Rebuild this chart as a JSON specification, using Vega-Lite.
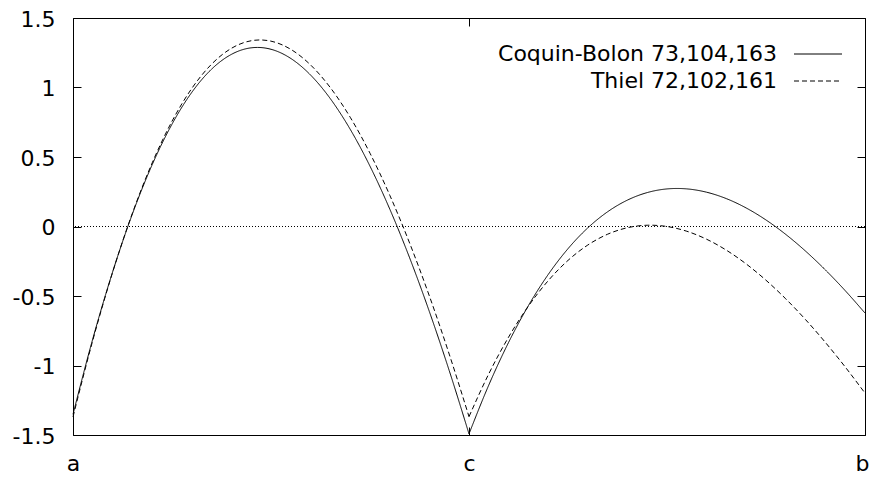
{
  "$schema": "https://vega.github.io/schema/vega-lite/v6.json",
  "width": 792,
  "height": 417,
  "autosize": "none",
  "padding": {"left": 73, "top": 18, "right": 5, "bottom": 42},
  "background": "white",
  "config": {
    "view": {"stroke": "black", "strokeWidth": 1},
    "font": "DejaVu Sans",
    "axis": {
      "grid": false,
      "domain": false,
      "offset": -8,
      "ticks": true,
      "tickColor": "black",
      "tickOpacity": 1,
      "tickWidth": 1,
      "tickSize": 8,
      "labelColor": "black",
      "labelFont": "DejaVu Sans",
      "labelFontSize": 22,
      "title": null
    }
  },
  "datasets": {
    "curves": [
      {"t": 0, "err": -1.3514, "series": "Coquin-Bolon 73,104,163", "part": "a-c"},
      {"t": 0.025, "err": -0.808, "series": "Coquin-Bolon 73,104,163", "part": "a-c"},
      {"t": 0.05, "err": -0.3272, "series": "Coquin-Bolon 73,104,163", "part": "a-c"},
      {"t": 0.075, "err": 0.0905, "series": "Coquin-Bolon 73,104,163", "part": "a-c"},
      {"t": 0.1, "err": 0.445, "series": "Coquin-Bolon 73,104,163", "part": "a-c"},
      {"t": 0.125, "err": 0.7363, "series": "Coquin-Bolon 73,104,163", "part": "a-c"},
      {"t": 0.15, "err": 0.9651, "series": "Coquin-Bolon 73,104,163", "part": "a-c"},
      {"t": 0.175, "err": 1.132, "series": "Coquin-Bolon 73,104,163", "part": "a-c"},
      {"t": 0.2, "err": 1.2383, "series": "Coquin-Bolon 73,104,163", "part": "a-c"},
      {"t": 0.225, "err": 1.2854, "series": "Coquin-Bolon 73,104,163", "part": "a-c"},
      {"t": 0.2329, "err": 1.2882, "series": "Coquin-Bolon 73,104,163", "part": "a-c"},
      {"t": 0.25, "err": 1.275, "series": "Coquin-Bolon 73,104,163", "part": "a-c"},
      {"t": 0.275, "err": 1.209, "series": "Coquin-Bolon 73,104,163", "part": "a-c"},
      {"t": 0.3, "err": 1.0895, "series": "Coquin-Bolon 73,104,163", "part": "a-c"},
      {"t": 0.325, "err": 0.9189, "series": "Coquin-Bolon 73,104,163", "part": "a-c"},
      {"t": 0.35, "err": 0.6995, "series": "Coquin-Bolon 73,104,163", "part": "a-c"},
      {"t": 0.375, "err": 0.434, "series": "Coquin-Bolon 73,104,163", "part": "a-c"},
      {"t": 0.4, "err": 0.1249, "series": "Coquin-Bolon 73,104,163", "part": "a-c"},
      {"t": 0.425, "err": -0.2249, "series": "Coquin-Bolon 73,104,163", "part": "a-c"},
      {"t": 0.45, "err": -0.6129, "series": "Coquin-Bolon 73,104,163", "part": "a-c"},
      {"t": 0.475, "err": -1.0362, "series": "Coquin-Bolon 73,104,163", "part": "a-c"},
      {"t": 0.5, "err": -1.4921, "series": "Coquin-Bolon 73,104,163", "part": "a-c"},
      {"t": 0.5, "err": -1.4921, "series": "Coquin-Bolon 73,104,163", "part": "c-b"},
      {"t": 0.525, "err": -1.1405, "series": "Coquin-Bolon 73,104,163", "part": "c-b"},
      {"t": 0.55, "err": -0.8337, "series": "Coquin-Bolon 73,104,163", "part": "c-b"},
      {"t": 0.575, "err": -0.5694, "series": "Coquin-Bolon 73,104,163", "part": "c-b"},
      {"t": 0.6, "err": -0.3454, "series": "Coquin-Bolon 73,104,163", "part": "c-b"},
      {"t": 0.625, "err": -0.1597, "series": "Coquin-Bolon 73,104,163", "part": "c-b"},
      {"t": 0.65, "err": -0.0099, "series": "Coquin-Bolon 73,104,163", "part": "c-b"},
      {"t": 0.675, "err": 0.1059, "series": "Coquin-Bolon 73,104,163", "part": "c-b"},
      {"t": 0.7, "err": 0.1898, "series": "Coquin-Bolon 73,104,163", "part": "c-b"},
      {"t": 0.725, "err": 0.244, "series": "Coquin-Bolon 73,104,163", "part": "c-b"},
      {"t": 0.75, "err": 0.2703, "series": "Coquin-Bolon 73,104,163", "part": "c-b"},
      {"t": 0.7627, "err": 0.2736, "series": "Coquin-Bolon 73,104,163", "part": "c-b"},
      {"t": 0.775, "err": 0.2706, "series": "Coquin-Bolon 73,104,163", "part": "c-b"},
      {"t": 0.8, "err": 0.2467, "series": "Coquin-Bolon 73,104,163", "part": "c-b"},
      {"t": 0.825, "err": 0.2004, "series": "Coquin-Bolon 73,104,163", "part": "c-b"},
      {"t": 0.85, "err": 0.1332, "series": "Coquin-Bolon 73,104,163", "part": "c-b"},
      {"t": 0.875, "err": 0.0469, "series": "Coquin-Bolon 73,104,163", "part": "c-b"},
      {"t": 0.9, "err": -0.0571, "series": "Coquin-Bolon 73,104,163", "part": "c-b"},
      {"t": 0.925, "err": -0.1774, "series": "Coquin-Bolon 73,104,163", "part": "c-b"},
      {"t": 0.95, "err": -0.3126, "series": "Coquin-Bolon 73,104,163", "part": "c-b"},
      {"t": 0.975, "err": -0.4614, "series": "Coquin-Bolon 73,104,163", "part": "c-b"},
      {"t": 1, "err": -0.6228, "series": "Coquin-Bolon 73,104,163", "part": "c-b"},
      {"t": 0, "err": -1.3699, "series": "Thiel 72,102,161", "part": "a-c"},
      {"t": 0.025, "err": -0.8187, "series": "Thiel 72,102,161", "part": "a-c"},
      {"t": 0.05, "err": -0.33, "series": "Thiel 72,102,161", "part": "a-c"},
      {"t": 0.075, "err": 0.0956, "series": "Thiel 72,102,161", "part": "a-c"},
      {"t": 0.1, "err": 0.4579, "series": "Thiel 72,102,161", "part": "a-c"},
      {"t": 0.125, "err": 0.757, "series": "Thiel 72,102,161", "part": "a-c"},
      {"t": 0.15, "err": 0.9934, "series": "Thiel 72,102,161", "part": "a-c"},
      {"t": 0.175, "err": 1.168, "series": "Thiel 72,102,161", "part": "a-c"},
      {"t": 0.2, "err": 1.2819, "series": "Thiel 72,102,161", "part": "a-c"},
      {"t": 0.225, "err": 1.3364, "series": "Thiel 72,102,161", "part": "a-c"},
      {"t": 0.2361, "err": 1.3421, "series": "Thiel 72,102,161", "part": "a-c"},
      {"t": 0.25, "err": 1.3334, "series": "Thiel 72,102,161", "part": "a-c"},
      {"t": 0.275, "err": 1.2746, "series": "Thiel 72,102,161", "part": "a-c"},
      {"t": 0.3, "err": 1.1622, "series": "Thiel 72,102,161", "part": "a-c"},
      {"t": 0.325, "err": 0.9985, "series": "Thiel 72,102,161", "part": "a-c"},
      {"t": 0.35, "err": 0.786, "series": "Thiel 72,102,161", "part": "a-c"},
      {"t": 0.375, "err": 0.5271, "series": "Thiel 72,102,161", "part": "a-c"},
      {"t": 0.4, "err": 0.2246, "series": "Thiel 72,102,161", "part": "a-c"},
      {"t": 0.425, "err": -0.1189, "series": "Thiel 72,102,161", "part": "a-c"},
      {"t": 0.45, "err": -0.5006, "series": "Thiel 72,102,161", "part": "a-c"},
      {"t": 0.475, "err": -0.9179, "series": "Thiel 72,102,161", "part": "a-c"},
      {"t": 0.5, "err": -1.368, "series": "Thiel 72,102,161", "part": "a-c"},
      {"t": 0.5, "err": -1.368, "series": "Thiel 72,102,161", "part": "c-b"},
      {"t": 0.525, "err": -1.0598, "series": "Thiel 72,102,161", "part": "c-b"},
      {"t": 0.55, "err": -0.7956, "series": "Thiel 72,102,161", "part": "c-b"},
      {"t": 0.575, "err": -0.573, "series": "Thiel 72,102,161", "part": "c-b"},
      {"t": 0.6, "err": -0.3899, "series": "Thiel 72,102,161", "part": "c-b"},
      {"t": 0.625, "err": -0.244, "series": "Thiel 72,102,161", "part": "c-b"},
      {"t": 0.65, "err": -0.1333, "series": "Thiel 72,102,161", "part": "c-b"},
      {"t": 0.675, "err": -0.0556, "series": "Thiel 72,102,161", "part": "c-b"},
      {"t": 0.7, "err": -0.0088, "series": "Thiel 72,102,161", "part": "c-b"},
      {"t": 0.725, "err": 0.0091, "series": "Thiel 72,102,161", "part": "c-b"},
      {"t": 0.7288, "err": 0.0094, "series": "Thiel 72,102,161", "part": "c-b"},
      {"t": 0.75, "err": 0.0, "series": "Thiel 72,102,161", "part": "c-b"},
      {"t": 0.775, "err": -0.0342, "series": "Thiel 72,102,161", "part": "c-b"},
      {"t": 0.8, "err": -0.0916, "series": "Thiel 72,102,161", "part": "c-b"},
      {"t": 0.825, "err": -0.1706, "series": "Thiel 72,102,161", "part": "c-b"},
      {"t": 0.85, "err": -0.2695, "series": "Thiel 72,102,161", "part": "c-b"},
      {"t": 0.875, "err": -0.3867, "series": "Thiel 72,102,161", "part": "c-b"},
      {"t": 0.9, "err": -0.5208, "series": "Thiel 72,102,161", "part": "c-b"},
      {"t": 0.925, "err": -0.6703, "series": "Thiel 72,102,161", "part": "c-b"},
      {"t": 0.95, "err": -0.834, "series": "Thiel 72,102,161", "part": "c-b"},
      {"t": 0.975, "err": -1.0105, "series": "Thiel 72,102,161", "part": "c-b"},
      {"t": 1, "err": -1.1988, "series": "Thiel 72,102,161", "part": "c-b"}
    ]
  },
  "layer": [
    {
      "data": {"values": [{"level": 0}]},
      "mark": {"type": "rule", "color": "black", "strokeWidth": 1, "strokeDash": [1, 2]},
      "encoding": {
        "y": {"field": "level", "type": "quantitative", "axis": null, "scale": {"domain": [-1.5, 1.5], "nice": false, "zero": false}}
      }
    },
    {
      "data": {"name": "curves"},
      "mark": {"type": "line", "color": "black", "strokeWidth": 1, "interpolate": "monotone"},
      "encoding": {
        "x": {
          "field": "t", "type": "quantitative",
          "scale": {"domain": [0, 1], "nice": false, "zero": false},
          "axis": {
            "orient": "bottom", "values": [0, 0.5, 1],
            "labelExpr": "datum.value == 0 ? 'a' : (datum.value == 1 ? 'b' : 'c')",
            "labelFlush": false, "labelOverlap": false,
            "labelAlign": {"condition": {"test": "datum.value == 1", "value": "right"}, "value": "center"},
            "labelOffset": {"condition": {"test": "datum.value == 1", "value": 4}, "value": 0},
            "labelBaseline": "alphabetic", "labelPadding": 35
          }
        },
        "y": {
          "field": "err", "type": "quantitative",
          "scale": {"domain": [-1.5, 1.5], "nice": false, "zero": false},
          "axis": {
            "orient": "left", "values": [-1.5, -1, -0.5, 0, 0.5, 1, 1.5],
            "labelExpr": "'' + datum.value",
            "labelPadding": 18, "labelBaseline": "alphabetic", "labelOffset": 8,
            "labelOverlap": false, "labelFlush": false
          }
        },
        "detail": {"field": "part"},
        "strokeDash": {
          "field": "series", "type": "nominal",
          "scale": {"domain": ["Coquin-Bolon 73,104,163", "Thiel 72,102,161"], "range": [[1, 0], [5, 3]]},
          "legend": {
            "orient": "none", "legendX": 702, "legendY": 25, "title": null, "padding": 0,
            "labelFont": "DejaVu Sans", "labelFontSize": 22, "labelColor": "black",
            "labelAlign": "right", "labelBaseline": "middle", "labelOffset": -52, "labelLimit": 0,
            "symbolOffset": 32, "symbolType": "M-2.4,0H2.4", "symbolSize": 400,
            "symbolStrokeWidth": 1, "symbolStrokeColor": "black", "symbolFillColor": "transparent",
            "rowPadding": 5
          }
        }
      }
    },
    {
      "data": {"name": "curves"},
      "mark": {"type": "line", "color": "black", "strokeOpacity": 0},
      "encoding": {
        "x": {
          "field": "t", "type": "quantitative",
          "axis": {"orient": "top", "values": [0, 0.5, 1], "labels": false}
        },
        "y": {
          "field": "err", "type": "quantitative",
          "axis": {"orient": "right", "values": [-1.5, -1, -0.5, 0, 0.5, 1, 1.5], "labels": false}
        },
        "detail": {"field": "series"}
      }
    }
  ],
  "resolve": {"axis": {"x": "independent", "y": "independent"}}
}
